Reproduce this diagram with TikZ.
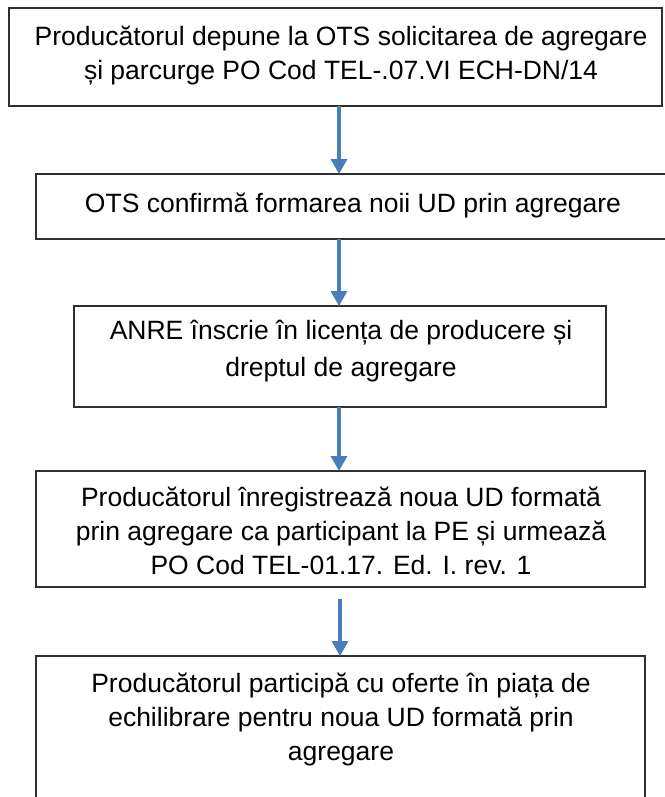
\documentclass[tikz,border=0pt]{standalone}
\usepackage{fontspec}
\setmainfont{Liberation Sans}
\usetikzlibrary{arrows.meta}
\definecolor{arrowblue}{HTML}{4A7EBB}
\definecolor{boxline}{HTML}{303030}
\begin{document}
\begin{tikzpicture}[x=1pt,y=-1pt,
  box/.style={draw=boxline, line width=1.3pt, rectangle, inner sep=0pt, outer sep=0pt, anchor=north west},
  label/.style={align=center, inner sep=0pt, font=\fontsize{26.5}{34}\selectfont},
  arr/.style={draw=arrowblue, line width=3.2pt, -{Triangle[width=16pt,length=15pt]}}]
\useasboundingbox (0,0) rectangle (664,797);
\fill[white] (0,0) rectangle (664,797);
\node[box, minimum width=653pt, minimum height=98pt] (b1) at (9,8) {};
\node[box, minimum width=632pt, minimum height=65pt] (b2) at (36,174) {};
\node[box, minimum width=532pt, minimum height=101pt] (b3) at (74,306) {};
\node[box, minimum width=609pt, minimum height=116pt] (b4) at (36,471) {};
\node[box, minimum width=609pt, minimum height=174pt] (b5) at (36,656) {};
\node[label] (t1) at (341,56) {Producătorul depune la OTS solicitarea de agregare\\și parcurge PO Cod TEL-.07.VI ECH-DN/14};
\node[label] (t2) at (353,205) {OTS confirmă formarea noii UD prin agregare};
\node[label, font=\fontsize{26.5}{37}\selectfont] (t3) at (341,351) {ANRE înscrie în licența de producere și\\dreptul de agregare};
\node[label] (t4) at (341,531) {Producătorul înregistrează noua UD formată\\prin agregare ca participant la PE și urmează\\PO Cod TEL-01.17. Ed. I. rev. 1};
\node[label] (t5) at (341,719) {Producătorul participă cu oferte în piața de\\echilibrare pentru noua UD formată prin\\agregare};
\coordinate (ax) at (339,0);
\coordinate (bx) at (340,0);
\draw[arr] (b1.south -| ax) -- (b2.north -| ax);
\draw[arr] (b2.south -| ax) -- (b3.north -| ax);
\draw[arr] (b3.south -| ax) -- (b4.north -| ax);
\draw[arr] ([yshift=-12pt]b4.south -| bx) -- (b5.north -| bx);
\end{tikzpicture}
\end{document}
